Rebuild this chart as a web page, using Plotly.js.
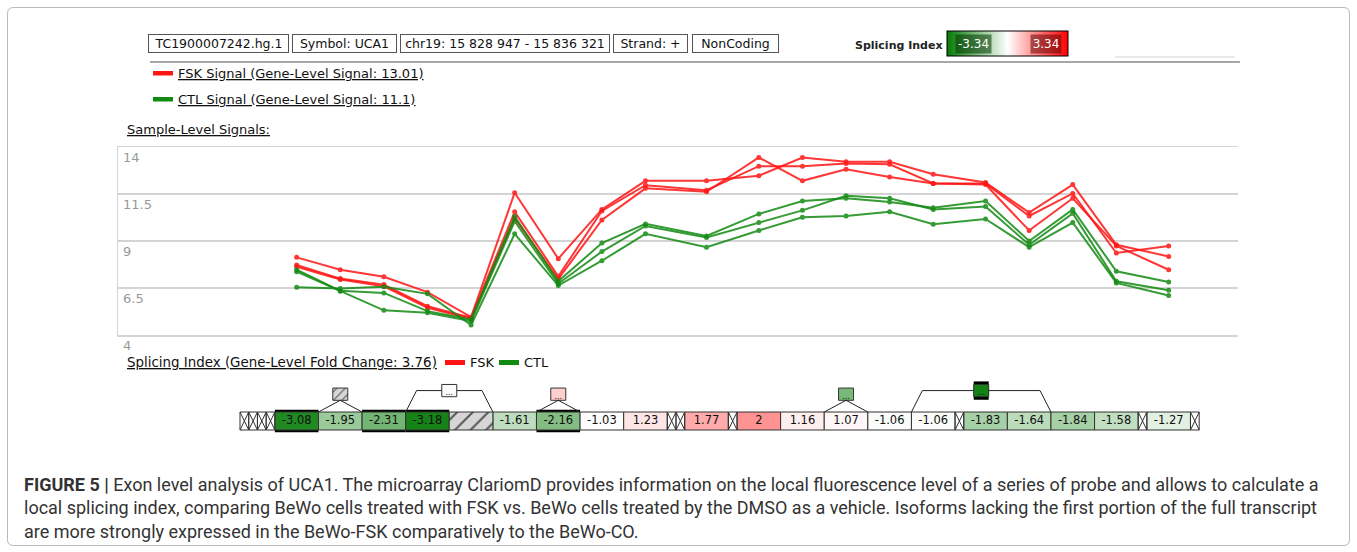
<!DOCTYPE html>
<html>
<head>
<meta charset="utf-8">
<script src="https://cdn.plot.ly/plotly-3.0.1.min.js"></script>
<style>html,body{margin:0;padding:0;background:#fff}#chart{width:1357px;height:552px}</style>
</head>
<body>
<div id="chart"></div>
<script>
// ================= DATA =================
const headerFields = ['TC1900007242.hg.1', 'Symbol: UCA1', 'chr19: 15 828 947 - 15 836 321', 'Strand: +', 'NonCoding'];
const groupNames = ['FSK', 'CTL'];
const geneLevelSignal = [13.01, 11.1];
const geneLevelFoldChange = 3.76;
const splicingIndexRange = [-3.34, 3.34];
const yTicks = [4, 6.5, 9, 11.5, 14];

// exon bar layout: 'X' = crossed (no probe) cell, 'P' = probe set cell
const cellKinds = ['X','X','X','X','P','P','P','P','P','P','P','P','P','X','X','P','X','P','P','P','P','P','X','P','P','P','P','X','P','X'];
// splicing index per probe set (null = no value, hatched)
const splicingIndex = [-3.08, -1.95, -2.31, -3.18, null, -1.61, -2.16, -1.03, 1.23, 1.77, 2, 1.16, 1.07, -1.06, -1.06, -1.83, -1.64, -1.84, -1.58, -1.27];
const emphasizedProbes = [0, 2, 3, 6];

// sub-exon boxes above the bar
const subsetFrom = [1, 3, 6, 12, 14];
const subsetTo = [1, 4, 6, 12, 16];
const subsetSI = [null, -1.05, 1.45, -2.25, -3.2];
const subsetMore = [false, true, true, true, true];
const subsetEmph = [false, false, false, false, true];

// sample-level signals per probe set (3 replicates per group)
const fsk1 = [8.13, 7.47, 7.10, 6.28, 4.95, 11.57, 8.06, 10.68, 12.20, 12.20, 12.47, 13.44, 13.21, 13.21, 12.55, 12.11, 10.51, 12.00, 8.80, 8.18];
const fsk2 = [7.72, 7.00, 6.68, 5.53, 4.92, 10.55, 7.12, 10.60, 11.97, 11.70, 12.98, 12.98, 13.12, 13.08, 12.06, 12.06, 10.33, 11.53, 8.36, 8.74];
const fsk3 = [7.63, 6.95, 6.59, 5.45, 4.86, 10.20, 6.98, 10.12, 11.80, 11.62, 13.44, 12.20, 12.82, 12.40, 12.06, 12.00, 9.56, 11.27, 8.74, 7.47];
const ctl1 = [7.47, 6.35, 6.24, 5.27, 4.83, 10.30, 6.86, 8.89, 9.91, 9.27, 10.44, 11.13, 11.27, 11.07, 10.77, 11.13, 9.00, 10.68, 7.39, 6.82];
const ctl2 = [7.37, 6.33, 5.31, 5.18, 4.74, 10.05, 6.73, 8.44, 9.80, 9.19, 9.98, 10.63, 11.41, 11.27, 10.68, 10.83, 8.80, 10.47, 6.86, 6.38];
const ctl3 = [6.54, 6.47, 6.56, 6.19, 4.53, 9.38, 6.63, 7.95, 9.38, 8.67, 9.56, 10.26, 10.33, 10.56, 9.89, 10.17, 8.67, 9.98, 6.77, 6.10];

const captionLines = [
  '<b>FIGURE 5 |</b> Exon level analysis of UCA1. The microarray ClariomD provides information on the local fluorescence level of a series of probe and allows to calculate a',
  'local splicing index, comparing BeWo cells treated with FSK vs. BeWo cells treated by the DMSO as a vehicle. Isoforms lacking the first portion of the full transcript',
  'are more strongly expressed in the BeWo-FSK comparatively to the BeWo-CO.'
];

// ================= LAYOUT HELPERS =================
const W = 1357, H = 552;
const px = v => v / W;
const py = v => 1 - v / H;
const FONT = 'DejaVu Sans, Noto Sans, sans-serif';
const CAP_FONT = 'Roboto, Liberation Sans, sans-serif';
const RED = '#ff1414', GREEN = '#128a12';

// cell geometry in axis units (probe cell = 1)
const X_W = 0.2;
const probeX = [], xCells = [];
let cur = 0;
cellKinds.forEach(k => {
  if (k === 'X') { xCells.push([cur, cur + X_W]); cur += X_W; }
  else { probeX.push(cur + 0.5); cur += 1; }
});
const CELL_PX = 43.6, BAR_LEFT_PX = 240, PLOT_L = 118, PLOT_R = 1238;

const siT = v => Math.sign(v) * (Math.abs(v) - 1);
const cMax = Math.abs(splicingIndexRange[1]) - 1;
const colorscale = [[0, '#057a05'], [0.5, '#ffffff'], [1, '#ff0000']];

const traces = [];

// ---- main signal lines ----
[[fsk1, fsk2, fsk3, RED], [ctl1, ctl2, ctl3, GREEN]].forEach(g => {
  for (let r = 0; r < 3; r++) {
    traces.push({
      type: 'scatter', mode: 'lines+markers', x: probeX, y: g[r],
      xaxis: 'x', yaxis: 'y', opacity: 0.85,
      line: {color: g[3], width: 2}, marker: {color: g[3], size: 5},
      hoverinfo: 'skip', showlegend: false
    });
  }
});

// ---- exon bar ----
const BOX_W = 15 / CELL_PX;
const subsetGeom = subsetFrom.map((f, i) => {
  const left = probeX[f] - 0.5, right = probeX[subsetTo[i]] + 0.5;
  const multi = subsetTo[i] !== f;
  const base = multi ? 1.85 : 1.65;
  return {left, right, cx: (left + right) / 2, base, h: 0.68, multi};
});

// emphasis (thick top/bottom borders)
const emX = [], emB = [], emY = [], emW = [];
emphasizedProbes.forEach(i => { emX.push(probeX[i]); emB.push(-0.13); emY.push(1.26); emW.push(1); });
subsetGeom.forEach((g, i) => { if (subsetEmph[i]) { emX.push(g.cx); emB.push(g.base - 0.17); emY.push(g.h + 0.34); emW.push(BOX_W); } });
traces.push({type: 'bar', x: emX, y: emY, base: emB, width: emW, xaxis: 'x', yaxis: 'y2',
  marker: {color: '#000', line: {width: 0}}, hoverinfo: 'skip', showlegend: false});

// valued cells
const valIdx = splicingIndex.map((v, i) => v === null ? -1 : i).filter(i => i >= 0);
traces.push({
  type: 'bar', x: valIdx.map(i => probeX[i]), y: valIdx.map(() => 1), base: 0, width: 1,
  xaxis: 'x', yaxis: 'y2', hoverinfo: 'skip', showlegend: false,
  marker: {
    color: valIdx.map(i => siT(splicingIndex[i])), colorscale: colorscale, cmin: -cMax, cmax: cMax,
    line: {color: '#333', width: 1}, showscale: true,
    colorbar: {orientation: 'h', x: px(947), xanchor: 'left', y: py(57), yanchor: 'bottom',
      len: 121, lenmode: 'pixels', thickness: 25, thicknessmode: 'pixels', xpad: 0, ypad: 0,
      outlinewidth: 1, outlinecolor: '#000', showticklabels: false, ticks: '', borderwidth: 0}
  }
});

// valued subset boxes
const subVal = subsetSI.map((v, i) => v === null ? -1 : i).filter(i => i >= 0);
traces.push({
  type: 'bar', x: subVal.map(i => subsetGeom[i].cx), y: subVal.map(i => subsetGeom[i].h),
  base: subVal.map(i => subsetGeom[i].base), width: BOX_W, xaxis: 'x', yaxis: 'y2',
  hoverinfo: 'skip', showlegend: false,
  marker: {color: subVal.map(i => siT(subsetSI[i])), colorscale: colorscale, cmin: -cMax, cmax: cMax,
    line: {color: '#333', width: 1}}
});

// hatched (no value) cells and boxes
const hx = [], hy = [], hb = [], hw = [], hs = [];
splicingIndex.forEach((v, i) => { if (v === null) { hx.push(probeX[i]); hy.push(1); hb.push(0); hw.push(1); hs.push(11); } });
subsetSI.forEach((v, i) => { if (v === null) { const g = subsetGeom[i]; hx.push(g.cx); hy.push(g.h); hb.push(g.base); hw.push(BOX_W); hs.push(6); } });
traces.push({
  type: 'bar', x: hx, y: hy, base: hb, width: hw, xaxis: 'x', yaxis: 'y2', hoverinfo: 'skip', showlegend: false,
  marker: {color: '#d6d6d6', line: {color: '#333', width: 1},
    pattern: {shape: '/', fillmode: 'replace', bgcolor: '#d6d6d6', fgcolor: '#555', size: hs, solidity: 0.18}}
});

// crossed cells
const cxs = [], cys = [];
xCells.forEach(([a, b]) => {
  cxs.push(a, b, b, a, a, b, null, a, b, null);
  cys.push(0, 0, 1, 1, 0, 1, null, 1, 0, null);
});
traces.push({type: 'scatter', mode: 'lines', x: cxs, y: cys, xaxis: 'x', yaxis: 'y2',
  line: {color: '#333', width: 1}, hoverinfo: 'skip', showlegend: false});

// connectors
const lx = [], ly = [];
subsetGeom.forEach(g => {
  if (!g.multi) {
    lx.push(g.left, g.cx, g.right, null); ly.push(1, g.base, 1, null);
  } else {
    const mid = g.base + g.h / 2;
    lx.push(g.left, g.left + 0.25, g.cx - BOX_W / 2, null, g.cx + BOX_W / 2, g.right - 0.25, g.right, null);
    ly.push(1, mid, mid, null, mid, mid, 1, null);
  }
});
traces.push({type: 'scatter', mode: 'lines', x: lx, y: ly, xaxis: 'x', yaxis: 'y2',
  line: {color: '#222', width: 1}, hoverinfo: 'skip', showlegend: false});

// cell labels
traces.push({type: 'scatter', mode: 'text', x: valIdx.map(i => probeX[i]), y: valIdx.map(() => 0.5),
  text: valIdx.map(i => String(splicingIndex[i])), xaxis: 'x', yaxis: 'y2',
  textfont: {family: FONT, size: 11.5, color: '#111'}, hoverinfo: 'skip', showlegend: false});
// "..." marks
const moreIdx = subsetMore.map((m, i) => m ? i : -1).filter(i => i >= 0);
traces.push({type: 'scatter', mode: 'text', x: moreIdx.map(i => subsetGeom[i].cx), y: moreIdx.map(i => subsetGeom[i].base + 0.2),
  text: moreIdx.map(() => '...'), xaxis: 'x', yaxis: 'y2',
  textfont: {family: FONT, size: 8, color: '#111'}, hoverinfo: 'skip', showlegend: false});

// ================= ANNOTATIONS =================
const annotations = [];
const ann = (text, xPx, yPx, o) => Object.assign({xref: 'paper', yref: 'paper', x: px(xPx), y: py(yPx), text: text,
  showarrow: false, xanchor: 'left', yanchor: 'middle', font: {family: FONT, size: 13, color: '#111'}}, o || {});

const headerBoxPx = [[148, 289], [292, 397], [400, 610], [613, 688], [692, 779]];
headerFields.forEach((t, i) => {
  const [a, b] = headerBoxPx[i];
  annotations.push(ann(t, a, 43.5, {width: b - a - 4, height: 15, borderpad: 1, borderwidth: 1,
    bordercolor: '#555', bgcolor: '#fff', align: 'center', font: {family: FONT, size: 12.5, color: '#111'}}));
});
annotations.push(ann('<b>Splicing Index</b>', 945, 45, {xanchor: 'right', font: {family: FONT, size: 11, color: '#222'}}));
annotations.push(ann(String(splicingIndexRange[0]), 973.5, 44.5, {xanchor: 'center', bgcolor: 'rgba(0,55,0,0.55)',
  width: 33, height: 16, borderpad: 1, font: {family: FONT, size: 12, color: '#fff'}}));
annotations.push(ann(String(splicingIndexRange[1]), 1046, 44.5, {xanchor: 'center', bgcolor: 'rgba(100,0,0,0.55)',
  width: 28, height: 16, borderpad: 1, font: {family: FONT, size: 12, color: '#fff'}}));

annotations.push(ann('<u>' + groupNames[0] + ' Signal (Gene-Level Signal: ' + geneLevelSignal[0] + ')</u>', 176, 73));
annotations.push(ann('<u>' + groupNames[1] + ' Signal (Gene-Level Signal: ' + geneLevelSignal[1] + ')</u>', 176, 99));
annotations.push(ann('<u>Sample-Level Signals:</u>', 125, 129));
annotations.push(ann('<u>Splicing Index (Gene-Level Fold Change: ' + geneLevelFoldChange + ')</u>', 125, 362, {font: {family: FONT, size: 13.4, color: '#111'}}));
annotations.push(ann(groupNames[0], 468, 362));
annotations.push(ann(groupNames[1], 522, 362));

yTicks.forEach(v => annotations.push({xref: 'paper', yref: 'y', x: px(121), y: v, xanchor: 'left', yanchor: 'top',
  yshift: -1, text: String(v), showarrow: false, font: {family: FONT, size: 13, color: '#999'}}));

const capY = [484, 507.5, 531];
captionLines.forEach((t, i) => annotations.push(ann(t, 22, capY[i], {font: {family: CAP_FONT, size: 18, color: '#333'}})));

// ================= SHAPES =================
const rect = (x0, y0, x1, y1, color) => ({type: 'rect', xref: 'paper', yref: 'paper', x0: px(x0), x1: px(x1), y0: py(y1), y1: py(y0), fillcolor: color, line: {width: 0}});
const hline = (x0, x1, y, color, w) => ({type: 'line', xref: 'paper', yref: 'paper', x0: px(x0), x1: px(x1), y0: py(y), y1: py(y), line: {color: color, width: w}});
const shapes = [
  hline(150, 1240, 62, '#8a8a8a', 1.5),
  hline(1115, 1235, 57, '#d4d4d4', 1),
  rect(153, 71, 173, 75.5, RED),
  rect(153, 97, 173, 101.5, GREEN),
  rect(445, 360, 465, 365, RED),
  rect(499, 360, 519, 365, GREEN)
];
// outer rounded frame
(function () {
  const x0 = 7.5, y0 = 7.5, x1 = 1349.5, y1 = 545.5, r = 6;
  const P = (x, y) => px(x) + ',' + py(y);
  shapes.push({type: 'path', xref: 'paper', yref: 'paper', line: {color: '#b8b8b8', width: 1},
    path: 'M' + P(x0 + r, y0) + ' L' + P(x1 - r, y0) + ' Q' + P(x1, y0) + ' ' + P(x1, y0 + r) +
      ' L' + P(x1, y1 - r) + ' Q' + P(x1, y1) + ' ' + P(x1 - r, y1) + ' L' + P(x0 + r, y1) +
      ' Q' + P(x0, y1) + ' ' + P(x0, y1 - r) + ' L' + P(x0, y0 + r) + ' Q' + P(x0, y0) + ' ' + P(x0 + r, y0) + ' Z'});
})();

const layout = {
  width: W, height: H, margin: {l: 0, r: 0, t: 0, b: 0}, paper_bgcolor: '#fff', plot_bgcolor: 'rgba(0,0,0,0)',
  showlegend: false, barmode: 'overlay', font: {family: FONT},
  xaxis: {domain: [px(PLOT_L), px(PLOT_R)], anchor: 'y',
    range: [-(BAR_LEFT_PX - PLOT_L) / CELL_PX, (PLOT_R - BAR_LEFT_PX) / CELL_PX],
    showgrid: false, zeroline: false, showticklabels: false, ticks: '',
    showline: true, mirror: true, linecolor: '#d4d4d4', linewidth: 1.5, fixedrange: true},
  yaxis: {domain: [py(335), py(147)], range: [4, 14], anchor: 'x', tickvals: yTicks, showticklabels: false, ticks: '',
    gridcolor: '#d4d4d4', gridwidth: 1.5, zeroline: false, showline: true, linecolor: '#d4d4d4', linewidth: 1.5, fixedrange: true},
  yaxis2: {domain: [py(436), py(378)], range: [-0.333, 2.889], anchor: 'x', visible: false, fixedrange: true},
  annotations: annotations,
  shapes: shapes
};

Plotly.newPlot('chart', traces, layout, {displayModeBar: false, staticPlot: true});
</script>
</body>
</html>
